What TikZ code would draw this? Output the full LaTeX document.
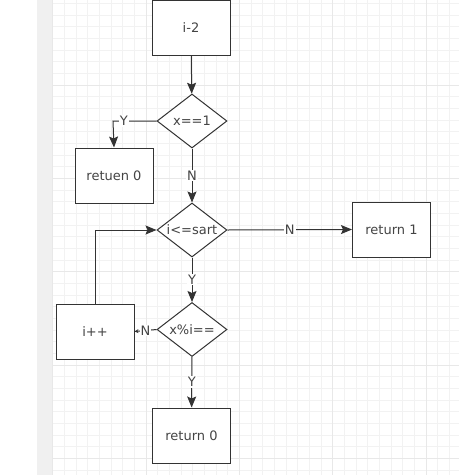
\documentclass[tikz,border=0pt]{standalone}
\usepackage{fontspec}
\setmainfont{DejaVu Sans}
\usetikzlibrary{shapes.geometric,arrows.meta}
\definecolor{ink}{HTML}{333333}
\definecolor{txt}{HTML}{444444}
\definecolor{gridminor}{HTML}{F2F2F2}
\definecolor{gridmajor}{HTML}{E8E8E8}
\definecolor{strip}{HTML}{F0F0F0}
\tikzset{
  box/.style={draw=ink, line width=1pt, fill=white, minimum width=78pt, minimum height=55pt, inner sep=0pt, text=txt, font=\fontsize{13}{15}\selectfont},
  dia/.style={draw=ink, line width=1pt, fill=white, diamond, minimum width=70pt, minimum height=54pt, inner sep=0pt},
  dtext/.style={text=txt, font=\fontsize{13}{15}\selectfont, inner sep=0pt},
  flow/.style={draw=ink, line width=1pt, -{Stealth[length=11pt,width=9pt,inset=2pt]}},
  lbl/.style={fill=white, text=txt, inner sep=1pt, font=\fontsize{13}{15}\selectfont}
}
\begin{document}
\begin{tikzpicture}[x=1pt,y=-1pt]
\useasboundingbox (0,0) rectangle (459,475);
\fill[white] (0,0) rectangle (459,475);
\fill[strip] (37,0) rectangle (52.5,475);
% grid
\foreach \i in {0,...,35} {
  \draw[gridminor, line width=0.8pt] ({52.6+\i*11.67},0) -- ++(0,475);
}
\foreach \j in {0,...,40} {
  \draw[gridminor, line width=0.8pt] (52.5,{3.3+\j*11.67}) -- (459,{3.3+\j*11.67});
}
\foreach \i in {0,...,4} {
  \draw[gridmajor, line width=0.8pt] ({52.6+\i*93.36},0) -- ++(0,475);
}
\foreach \j in {0,...,5} {
  \draw[gridmajor, line width=0.8pt] (52.5,{85+\j*93.36}) -- (459,{85+\j*93.36});
}
% nodes
\node[box] (start) at (191,27.5) {i-2};
\node[dia, label={[dtext]center:x==1}] (d1) at (192,121) {};
\node[box] (ret0a) at (114,175.5) {retuen 0};
\node[dia, label={[dtext]center:i<=sart}] (d2) at (192,230) {};
\node[box] (ret1) at (391.5,229.5) {return 1};
\node[dia, label={[dtext]center:x\%i==}] (d3) at (192,329.5) {};
\node[box] (inc) at (95,331.5) {i++};
\node[box] (ret0b) at (191.5,435.5) {return 0};
\coordinate (c1) at (113,121);
% connectors
\draw[flow] (start) -- (d1);
\draw[flow] (d1.west) -- node[lbl, pos=0.75]{Y} (c1) -- (ret0a.north);
\draw[flow] (d1) -- node[lbl]{N} (d2);
\draw[flow] (d2.east) -- node[lbl]{N} (ret1.west);
\draw[flow] (d2) -- node[lbl]{Y} (d3);
\draw[draw=ink, line width=1pt, -{Stealth[length=4pt,width=4pt]}] (d3.west) -- node[lbl, inner sep=0.5pt]{N} (inc.east);
\draw[flow] (inc.north) |- (d2.west);
\draw[flow] (d3) -- node[lbl]{Y} (ret0b);
\end{tikzpicture}
\end{document}
